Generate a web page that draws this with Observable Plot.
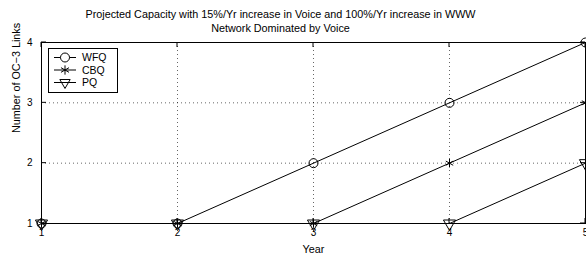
<!DOCTYPE html>
<html>
<head>
<meta charset="utf-8">
<script src="https://cdn.jsdelivr.net/npm/d3@7"></script>
<script src="https://cdn.jsdelivr.net/npm/@observablehq/plot@0.6"></script>
<style>
  html, body { margin: 0; padding: 0; background: #fff; }
  #wrap { position: relative; width: 586px; height: 256px; font-family: "Liberation Sans", Arial, sans-serif; }
  #legend { position: absolute; left: 48px; top: 48px; width: 68px; height: 43px; border: 1px solid #000; background: #fff; }
</style>
</head>
<body>
<div id="wrap"><div id="legend"></div></div>
<script>
const titleLines = ["Projected Capacity with 15%/Yr increase in Voice and 100%/Yr increase in WWW", "Network Dominated by Voice"];
const xLabel = "Year";
const yLabel = "Number of OC\u22123 Links";
const years = [1, 2, 3, 4, 5];
const seriesNames = ["WFQ", "CBQ", "PQ"];
const wfq = [1, 1, 2, 3, 4];
const cbq = [1, 1, 1, 2, 3];
const pq = [1, 1, 1, 1, 2];
const xTicks = [1, 2, 3, 4, 5];
const yTicks = [1, 2, 3, 4];
const xGrid = [2, 3, 4];
const yGrid = [2, 3];

const values = [wfq, cbq, pq];
const symbols = ["circle", "asterisk", "triangle"];
const rotates = [0, 0, 180];
const radii = [4.5, 4, 4.5];

const rows = [];
seriesNames.forEach((s, i) => years.forEach((y, j) => rows.push({series: s, year: y, value: values[i][j]})));

const font = "Liberation Sans, Arial, sans-serif";
const fmt = d3.format("d");
const marks = [
  Plot.ruleX(xGrid, {stroke: "#000", strokeOpacity: 0.6, strokeDasharray: "1,3"}),
  Plot.ruleY(yGrid, {stroke: "#000", strokeOpacity: 0.6, strokeDasharray: "1,3"}),
  Plot.axisX(xTicks, {anchor: "bottom", tickSize: 0, tickPadding: 5, fontSize: 10, fill: "#000", label: null, tickFormat: fmt}),
  Plot.axisY(yTicks, {anchor: "left", tickSize: 0, tickPadding: 9, fontSize: 10, fill: "#000", label: null, tickFormat: fmt}),
];
seriesNames.forEach((s, i) => {
  const d = rows.filter(r => r.series === s);
  marks.push(Plot.line(d, {x: "year", y: "value", stroke: "#000", strokeWidth: 1}));
  marks.push(Plot.dot(d, {x: "year", y: "value", symbol: () => symbols[i], rotate: rotates[i], r: radii[i], stroke: "#000", fill: "none", strokeWidth: 1}));
});
marks.push(Plot.frame({stroke: "#000"}));
marks.push(Plot.text([titleLines[0]], {frameAnchor: "top", dx: -33, dy: -32, fontSize: 10.8, fill: "#000"}));
marks.push(Plot.text([titleLines[1]], {frameAnchor: "top", dx: -33, dy: -18, fontSize: 10.8, fill: "#000"}));
marks.push(Plot.text([xLabel], {frameAnchor: "bottom", dy: 29, fontSize: 10.8, fill: "#000"}));
marks.push(Plot.text([yLabel], {frameAnchor: "left", dx: -25, rotate: -90, fontSize: 10.8, fill: "#000"}));

const chart = Plot.plot({
  width: 586, height: 256,
  marginLeft: 41, marginRight: 1, marginTop: 42, marginBottom: 33,
  style: {fontFamily: font, background: "#fff", overflow: "visible"},
  x: {domain: [1, 5], label: null, axis: null},
  y: {domain: [1, 4], label: null, axis: null},
  symbol: {type: "identity"},
  marks
});
document.getElementById("wrap").insertBefore(chart, document.getElementById("legend"));
chart.style.position = "absolute"; chart.style.left = "0"; chart.style.top = "0";

// inward tick marks on all four sides (MATLAB box style), positioned via the chart's scales
const xs = chart.scale("x"), ys = chart.scale("y");
const svgSel = d3.select(chart);
const tg = svgSel.append("g").attr("stroke", "#000").attr("stroke-width", 1);
const yTop = ys.apply(4), yBottom = ys.apply(1), xLeft = xs.apply(1), xRight = xs.apply(5);
xTicks.forEach(t => {
  const x = xs.apply(t);
  tg.append("line").attr("x1", x).attr("x2", x).attr("y1", yBottom).attr("y2", yBottom - 5);
  tg.append("line").attr("x1", x).attr("x2", x).attr("y1", yTop).attr("y2", yTop + 5);
});
yTicks.forEach(t => {
  const y = ys.apply(t);
  tg.append("line").attr("x1", xLeft).attr("x2", xLeft + 5).attr("y1", y).attr("y2", y);
  tg.append("line").attr("x1", xRight).attr("x2", xRight - 5).attr("y1", y).attr("y2", y);
});

// legend
const lg = d3.select("#legend").append("svg").attr("width", 68).attr("height", 43);
const symMap = {circle: d3.symbolCircle, asterisk: d3.symbolAsterisk, triangle: d3.symbolTriangle2};
seriesNames.forEach((s, i) => {
  const y = 8.5 + i * 12.5;
  const g = lg.append("g").attr("transform", `translate(0,${y})`);
  g.append("line").attr("x1", 5).attr("x2", 27).attr("y1", 0).attr("y2", 0).attr("stroke", "#000");
  g.append("path").attr("transform", `translate(16,0) rotate(${rotates[i]})`)
    .attr("d", d3.symbol(symMap[symbols[i]], Math.PI * radii[i] * radii[i] * (symbols[i] === "circle" ? 1 : 1.2))())
    .attr("fill", symbols[i] === "circle" ? "#fff" : "none").attr("stroke", "#000");
  g.append("text").attr("x", 33).attr("y", 0).attr("dy", "0.35em").attr("font-size", 10.5)
    .attr("font-family", font).text(s);
});
</script>
</body>
</html>
